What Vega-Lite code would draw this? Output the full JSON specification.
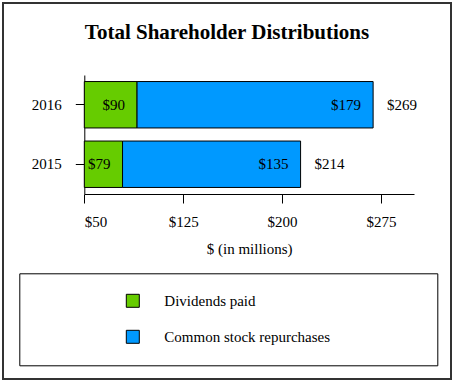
{
  "$schema": "https://vega.github.io/schema/vega-lite/v6.json",
  "autosize": {"type": "none"},
  "padding": 3,
  "width": 448,
  "height": 376,
  "background": "white",
  "title": {
    "text": "Total Shareholder Distributions",
    "font": "Liberation Serif",
    "fontSize": 21,
    "fontWeight": "bold",
    "color": "black",
    "anchor": "middle",
    "frame": "group",
    "baseline": "alphabetic",
    "offset": -57
  },
  "data": {
    "values": [
      {"year": "2016", "type": "Dividends paid", "amount": 90},
      {"year": "2016", "type": "Common stock repurchases", "amount": 179},
      {"year": "2015", "type": "Dividends paid", "amount": 79},
      {"year": "2015", "type": "Common stock repurchases", "amount": 135}
    ]
  },
  "transform": [
    {"stack": "amount", "groupby": ["year"], "sort": [{"field": "type", "order": "descending"}], "as": ["x0", "x1"]},
    {"joinaggregate": [{"op": "sum", "field": "amount", "as": "total"}], "groupby": ["year"]}
  ],
  "encoding": {
    "y": {
      "field": "year",
      "type": "nominal",
      "sort": ["2016", "2015"],
      "scale": {"range": [72, 191], "paddingInner": 0.22, "paddingOuter": 0.11},
      "axis": {
        "title": null,
        "orient": "left",
        "offset": -81.3,
        "tickSize": 9,
        "labelPadding": 14,
        "labelFont": "Liberation Serif",
        "labelFontSize": 15,
        "labelColor": "black",
        "domainColor": "black",
        "tickColor": "black",
        "grid": false
      }
    }
  },
  "layer": [
    {
      "mark": {"type": "bar", "stroke": "black", "strokeWidth": 1},
      "encoding": {
        "x": {
          "field": "x0",
          "type": "quantitative",
          "scale": {"domain": [50, 300], "range": [81.3, 411], "clamp": true, "nice": false, "zero": false},
          "axis": {
            "title": "$ (in millions)",
            "orient": "bottom",
            "offset": -185,
            "values": [50, 125, 200, 275],
            "format": "$d",
            "tickSize": 9,
            "labelPadding": 11,
            "labelFont": "Liberation Serif",
            "labelFontSize": 15,
            "labelColor": "black",
            "titleFont": "Liberation Serif",
            "titleFontSize": 15,
            "titleFontWeight": "normal",
            "titleColor": "black",
            "titlePadding": 12,
            "domainColor": "black",
            "tickColor": "black",
            "grid": false
          }
        },
        "x2": {"field": "x1"},
        "color": {
          "field": "type",
          "type": "nominal",
          "scale": {"domain": ["Dividends paid", "Common stock repurchases"], "range": ["#66cc00", "#0099ff"]},
          "legend": {
            "title": null,
            "orient": "none",
            "legendX": 16.3,
            "legendY": 270.3,
            "direction": "vertical",
            "padding": 20,
            "rowPadding": 19,
            "strokeColor": "black",
            "fillColor": "white",
            "symbolType": "square",
            "symbolSize": 169,
            "symbolStrokeColor": "black",
            "symbolStrokeWidth": 1,
            "symbolOpacity": 1,
            "symbolOffset": 86,
            "labelOffset": 24,
            "labelLimit": 600,
            "labelFont": "Liberation Serif",
            "labelFontSize": 15,
            "labelColor": "black",
            "labelExpr": "datum.label + '\u00a0\u00a0\u00a0\u00a0\u00a0\u00a0\u00a0\u00a0\u00a0\u00a0\u00a0\u00a0\u00a0\u00a0\u00a0\u00a0\u00a0\u00a0\u00a0\u00a0\u00a0\u00a0\u00a0\u200b'"
          }
        }
      }
    },
    {
      "mark": {"type": "text", "align": "right", "baseline": "middle", "dx": -12, "font": "Liberation Serif", "fontSize": 15, "color": "black"},
      "encoding": {
        "x": {"field": "x1", "type": "quantitative"},
        "text": {"field": "amount", "type": "quantitative", "format": "$d"}
      }
    },
    {
      "transform": [{"filter": "datum.type === 'Common stock repurchases'"}],
      "mark": {"type": "text", "align": "left", "baseline": "middle", "dx": 14, "font": "Liberation Serif", "fontSize": 15, "color": "black"},
      "encoding": {
        "x": {"field": "total", "type": "quantitative"},
        "text": {"field": "total", "type": "quantitative", "format": "$d"}
      }
    }
  ],
  "config": {
    "view": {"stroke": "#333333", "strokeWidth": 2},
    "axis": {"domainWidth": 1, "tickWidth": 1}
  }
}
